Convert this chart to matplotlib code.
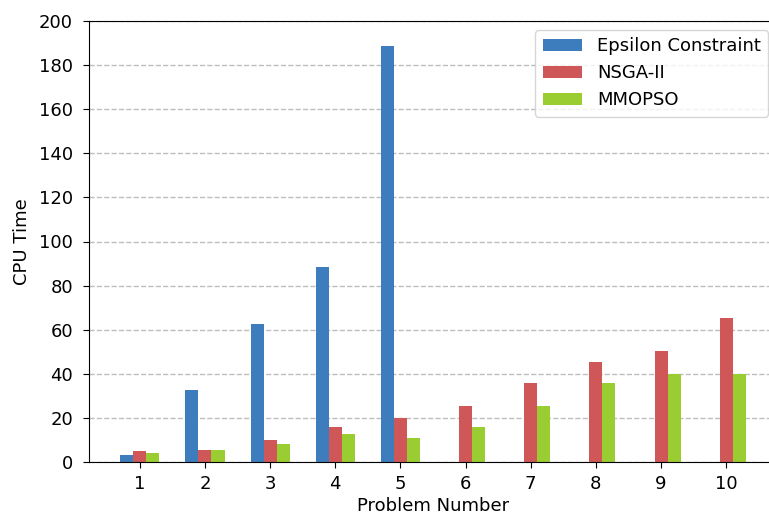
import numpy as np
from matplotlib import pyplot as plt

problems = [1, 2, 3, 4, 5, 6, 7, 8, 9, 10]
epsilon = [3, 32.5, 62.5, 88.3, 188.7]
nsga = [4.8, 5.6, 10, 16, 20, 25.5, 36, 45.3, 50.5, 65.2]
mmopso = [3.9, 5.6, 8.3, 12.5, 10.9, 16, 25.5, 36, 40, 40]

width = 0.2

fig = plt.figure(figsize=(7.69, 5.21), dpi=100)
ax = fig.add_axes([89 / 769, 59 / 521, 688 / 769, 441 / 521])

x = np.array(problems)
ax.bar(x[:len(epsilon)] - width, epsilon, width, color="#3d7dbd", label="Epsilon Constraint")
ax.bar(x, nsga, width, color="#cf5757", label="NSGA-II")
ax.bar(x + width, mmopso, width, color="#9acd32", label="MMOPSO")

ax.set_xlim(0.22, 10.78)
ax.set_ylim(0, 200)
ax.set_xticks(problems)
ax.set_yticks(np.arange(0, 201, 20))
ax.tick_params(axis="y", labelsize=13, length=4.5, pad=7)
ax.tick_params(axis="x", labelsize=13, length=4.5, pad=5)
ax.set_xlabel("Problem Number", fontsize=13, labelpad=3)
ax.set_ylabel("CPU Time", fontsize=13, labelpad=6)
ax.yaxis.grid(True, linestyle="--", color="#bdbdbd", linewidth=1)
ax.set_axisbelow(True)
ax.legend(loc="upper right", fontsize=13, handlelength=2.2)

fig.savefig("out.png", dpi=100)
